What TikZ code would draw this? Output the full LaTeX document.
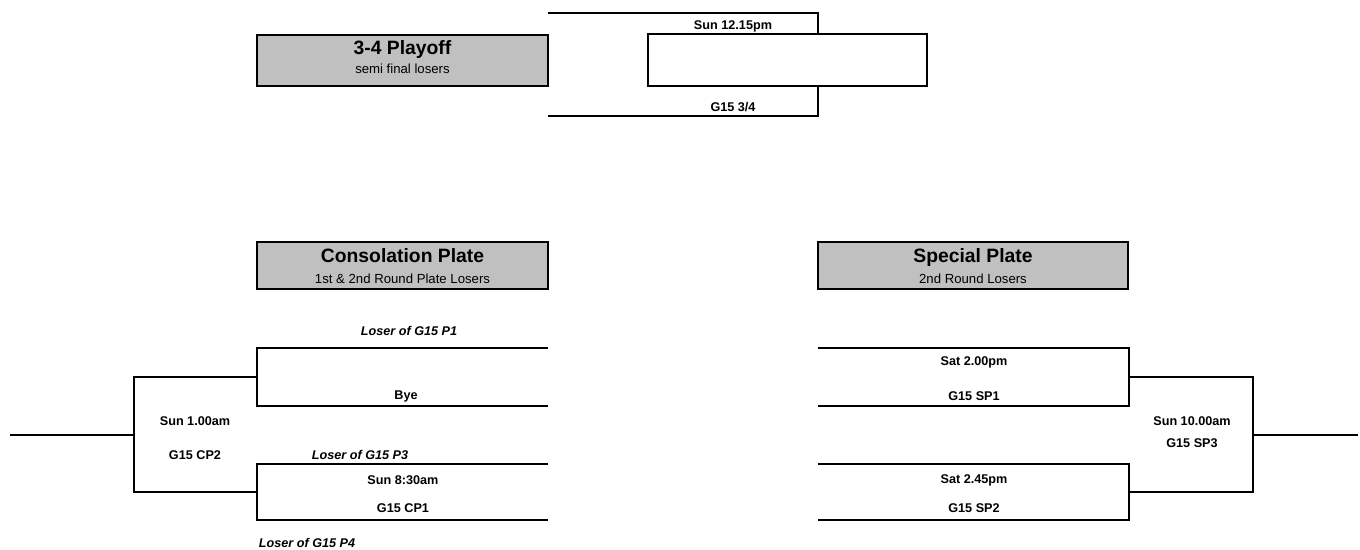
\documentclass[tikz,border=0pt]{standalone}
\usepackage{fontspec}
\setmainfont{Liberation Sans}
\definecolor{hdrgray}{RGB}{192,192,192}
\tikzset{header/.style={ % Grey title boxes
draw,
line width=1.2pt,
fill=hdrgray,
inner sep=0pt},
slot/.style={inner sep=0pt}, % Invisible frame of one match
title/.style={font=\fontsize{11}{13}\selectfont\bfseries, inner sep=0pt},
subtitle/.style={font=\fontsize{7.5}{9}\selectfont, inner sep=0pt},
tag/.style={font=\fontsize{7.2}{9}\selectfont\bfseries, inner sep=0pt},
loser/.style={font=\fontsize{7.2}{9}\selectfont\bfseries\itshape, inner sep=0pt},
bracket/.style={line width=1.2pt}}

\begin{document}
\begin{tikzpicture}[x=0.02cm, y=-0.02cm]
				\useasboundingbox (0,0) rectangle (1360,549);

				% 3-4 playoff
				\node[header, minimum width=5.82cm, minimum height=1.02cm] (hdrPO) at (402.5,60.5) {};
				\node[title] (poTitle) at (402.5,49) {3-4 Playoff};
				\node[subtitle] (poSub) at (402.5,69) {semi final losers};
				\node[slot, minimum width=5.4cm, minimum height=2.06cm] (po) at (683,64.5) {};
				\node[draw, bracket, minimum width=5.58cm, minimum height=1.04cm] (poBox) at (787.5,60) {};
				\draw[bracket] (po.north west) -- (po.north east) -- (po.north east |- poBox.north);
				\draw[bracket] (po.south west) -- (po.south east) -- (po.south east |- poBox.south);
				\node[tag] (poTime) at (733,26) {Sun 12.15pm};
				\node[tag] (poGame) at (733,107) {G15 3/4};

				% consolation plate
				\node[header, minimum width=5.82cm, minimum height=0.94cm] (hdrCP) at (402.5,265.5) {};
				\node[title] (cpTitle) at (402.5,256) {Consolation Plate};
				\node[subtitle] (cpSub) at (402.5,279) {1st \& 2nd Round Plate Losers};
				\node[slot, minimum width=5.82cm, minimum height=1.16cm] (cpA) at (402.5,377) {};
				\node[slot, minimum width=5.82cm, minimum height=1.12cm] (cpB) at (402.5,492) {};
				\coordinate (cp2) at (134,435);
				\coordinate (cpOut) at (10,435);
				\draw[bracket] (cpA.north east) -- (cpA.north west) -- (cpA.south west) -- (cpA.south east);
				\draw[bracket] (cpB.north east) -- (cpB.north west) -- (cpB.south west) -- (cpB.south east);
				\draw[bracket] (cpA.west) -| (cp2) |- (cpB.west);
				\draw[bracket] (cp2) -- (cpOut);
				\node[loser] (cpL1) at (409,331) {Loser of G15 P1};
				\node[tag] (cpBye) at (406,396) {Bye};
				\node[loser] (cpL3) at (360,455) {Loser of G15 P3};
				\node[tag] (cp1Time) at (403,480) {Sun 8:30am};
				\node[tag] (cp1Game) at (403,508) {G15 CP1};
				\node[loser] (cpL4) at (307,543) {Loser of G15 P4};
				\node[tag] (cp2Time) at (195,421) {Sun 1.00am};
				\node[tag] (cp2Game) at (195,455) {G15 CP2};

				% special plate
				\node[header, minimum width=6.2cm, minimum height=0.94cm] (hdrSP) at (973,265.5) {};
				\node[title] (spTitle) at (973,257) {Special Plate};
				\node[subtitle] (spSub) at (973,279) {2nd Round Losers};
				\node[slot, minimum width=6.22cm, minimum height=1.16cm] (spA) at (973.5,377) {};
				\node[slot, minimum width=6.22cm, minimum height=1.12cm] (spB) at (973.5,492) {};
				\coordinate (sp3) at (1253,435);
				\coordinate (spOut) at (1358,435);
				\draw[bracket] (spA.north west) -- (spA.north east) -- (spA.south east) -- (spA.south west);
				\draw[bracket] (spB.north west) -- (spB.north east) -- (spB.south east) -- (spB.south west);
				\draw[bracket] (spA.east) -| (sp3) |- (spB.east);
				\draw[bracket] (sp3) -- (spOut);
				\node[tag] (sp1Time) at (974,362) {Sat 2.00pm};
				\node[tag] (sp1Game) at (974,396) {G15 SP1};
				\node[tag] (sp2Time) at (974,480) {Sat 2.45pm};
				\node[tag] (sp2Game) at (974,508) {G15 SP2};
				\node[tag] (sp3Time) at (1192,421) {Sun 10.00am};
				\node[tag] (sp3Game) at (1192,443) {G15 SP3};
			\end{tikzpicture}
\end{document}
